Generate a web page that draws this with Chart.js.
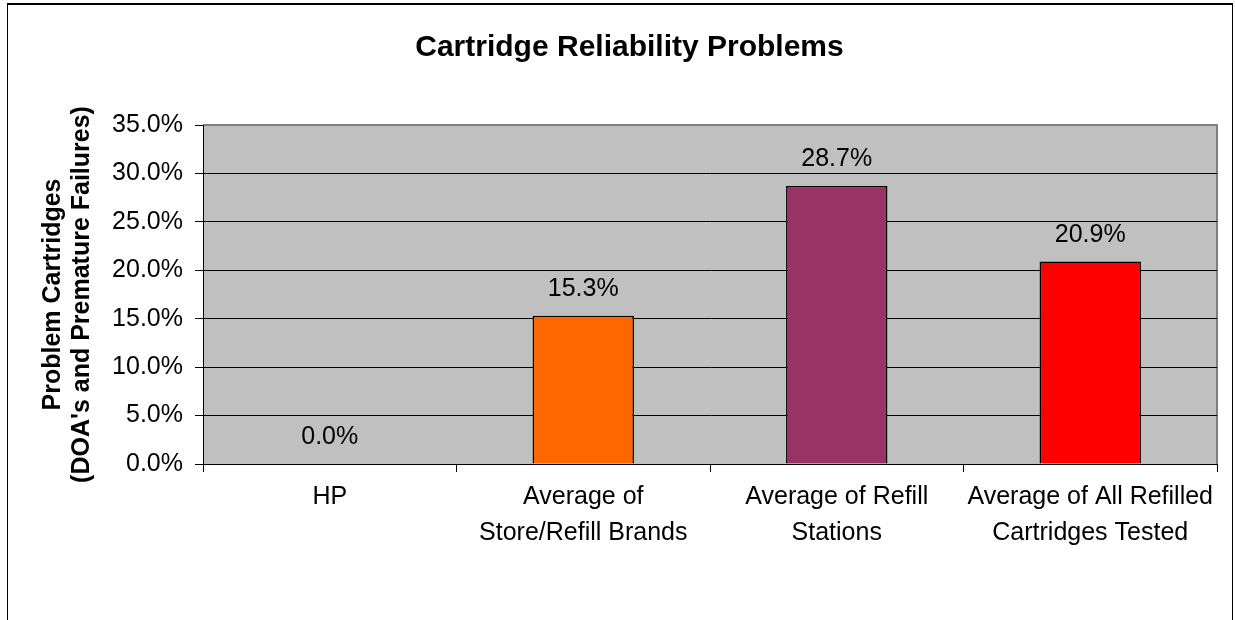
<!DOCTYPE html>
<html>
<head>
<meta charset="utf-8">
<script src="https://cdn.jsdelivr.net/npm/chart.js@4.4.1/dist/chart.umd.min.js"></script>
<style>
  body { margin: 0; overflow: hidden; background: #fff; }
  #wrap { position: relative; width: 1235px; height: 620px; }
  #frame {
    position: absolute; left: 7px; top: 3px; width: 1226px; height: 700px;
    border: 1px solid #000; border-top-width: 2px; box-sizing: border-box;
  }
  canvas { position: absolute; left: 0; top: 0; }
</style>
</head>
<body>
<div id="wrap">
  <div id="frame"></div>
  <canvas id="chart" width="1235" height="620"></canvas>
</div>
<script>
const categories = [
  "HP",
  ["Average of", "Store/Refill Brands"],
  ["Average of Refill", "Stations"],
  ["Average of All Refilled", "Cartridges Tested"],
];
const problemRates = [0.0, 15.3, 28.7, 20.9];
const barColors = ["#C0C0C0", "#FF6600", "#993366", "#FF0000"];
const yTicks = [0, 5, 10, 15, 20, 25, 30, 35];

const FONT = "'Liberation Sans', Arial, sans-serif";

// gray plot area with the darker border like the original
const plotBackground = {
  id: "plotBackground",
  beforeDraw(chart) {
    const { ctx, chartArea: a } = chart;
    ctx.save();
    ctx.fillStyle = "#C0C0C0";
    ctx.fillRect(a.left, a.top, a.right - a.left, a.bottom - a.top);
    ctx.strokeStyle = "#808080";
    ctx.lineWidth = 2;
    ctx.beginPath();
    ctx.moveTo(a.left, a.top);
    ctx.lineTo(a.right, a.top);
    ctx.lineTo(a.right, a.bottom);
    ctx.stroke();
    ctx.restore();
  },
};

const valueLabels = {
  id: "valueLabels",
  afterDatasetsDraw(chart) {
    const { ctx } = chart;
    const meta = chart.getDatasetMeta(0);
    ctx.save();
    ctx.font = "25px " + FONT;
    ctx.fillStyle = "#000";
    ctx.textAlign = "center";
    ctx.textBaseline = "alphabetic";
    meta.data.forEach((bar, i) => {
      ctx.fillText(problemRates[i].toFixed(1) + "%", bar.x, bar.y - 20);
    });
    ctx.restore();
  },
};

Chart.defaults.color = "#000";
Chart.defaults.font.family = FONT;

new Chart(document.getElementById("chart"), {
  type: "bar",
  data: {
    labels: categories,
    datasets: [
      {
        data: problemRates,
        backgroundColor: barColors,
        borderColor: "#000",
        borderWidth: 1.5,
        barPercentage: 0.4,
        categoryPercentage: 1,
      },
    ],
  },
  options: {
    responsive: false,
    animation: false,
    layout: { padding: { left: 42, right: 18, top: 0, bottom: 0 } },
    plugins: {
      legend: { display: false },
      tooltip: { enabled: false },
      title: {
        display: true,
        text: "Cartridge Reliability Problems",
        font: { size: 30, weight: "bold" },
        color: "#000",
        padding: { top: 30, bottom: 59 },
      },
    },
    scales: {
      x: {
        grid: {
          offset: true,
          drawOnChartArea: false,
          drawTicks: true,
          tickLength: 8,
          color: "#000",
        },
        border: { color: "#000", width: 1 },
        ticks: {
          font: { size: 25, lineHeight: 1.45 },
          padding: 7,
          maxRotation: 0,
          autoSkip: false,
        },
        afterFit(scale) {
          scale.height = 156;
        },
      },
      y: {
        min: 0,
        max: 35,
        afterBuildTicks(scale) {
          scale.ticks = yTicks.map((v) => ({ value: v }));
        },
        grid: {
          color: (c) => (c.tick && c.tick.value === 35 ? "#808080" : "#000"),
          tickColor: "#000",
          tickLength: 8,
        },
        border: { color: "#000", width: 1 },
        ticks: {
          font: { size: 25 },
          padding: 12,
          callback: (v) => v.toFixed(1) + "%",
        },
        title: {
          display: true,
          text: ["Problem Cartridges", "(DOA's and Premature Failures)"],
          font: { size: 25, weight: "bold", lineHeight: 1.15 },
          padding: { top: -3, bottom: 0 },
        },
        afterFit(scale) {
          scale.width = 161;
        },
      },
    },
  },
  plugins: [plotBackground, valueLabels],
});
</script>
</body>
</html>
